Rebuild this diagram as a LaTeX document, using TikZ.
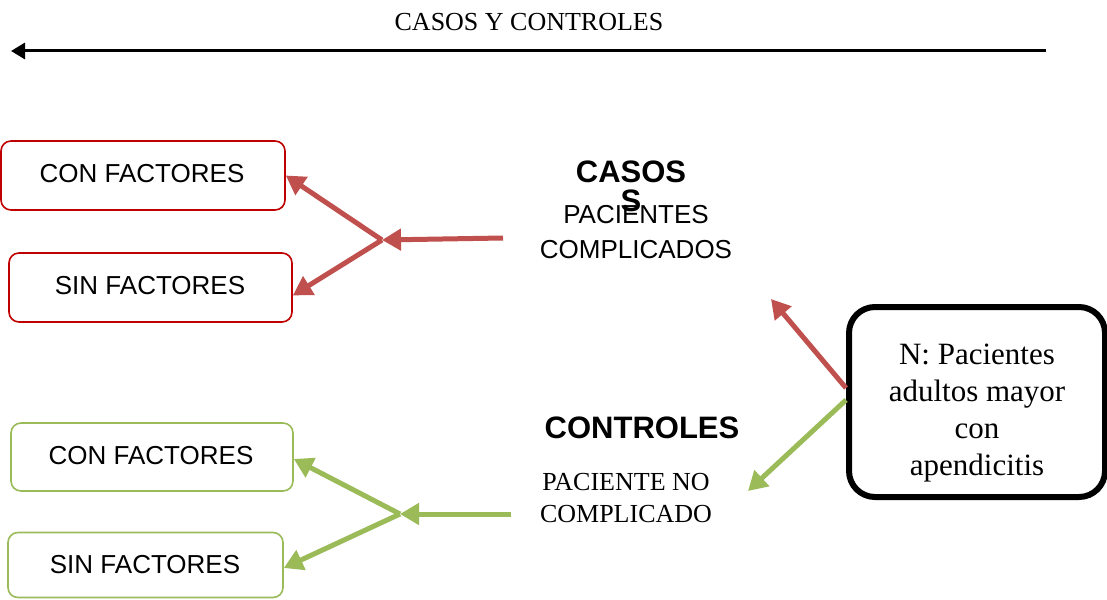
\documentclass[tikz,border=0pt]{standalone}
\usepackage{fontspec}
\setmainfont{Liberation Serif}
\newfontfamily\arialf{Liberation Sans}
\usetikzlibrary{arrows.meta}
\definecolor{boxred}{HTML}{C00000}
\definecolor{arrred}{HTML}{C0504D}
\definecolor{grn}{HTML}{9BBB59}
\tikzset{
  redbox/.style={draw=boxred, line width=1.6pt, rounded corners=10pt, inner sep=0pt},
  grnbox/.style={draw=grn, line width=1.6pt, rounded corners=10pt, inner sep=0pt},
  sanslbl/.style={font=\arialf\fontsize{26}{34}\selectfont, inner sep=0pt, align=center},
  seriflbl/.style={font=\fontsize{26}{32}\selectfont, inner sep=0pt, align=center},
  boldlbl/.style={font=\arialf\bfseries\fontsize{31}{29}\selectfont, inner sep=0pt, align=center},
  redarr/.style={draw=arrred, line width=5pt, -{Triangle[length=19pt,width=21pt]}},
  grnarr/.style={draw=grn, line width=5pt, -{Triangle[length=19pt,width=21pt]}},
}
\begin{document}
\begin{tikzpicture}[x=1pt, y=-1pt]
\useasboundingbox[fill=white] (0,0) rectangle (1107,599);

% title and top arrow
\node[seriflbl] (title) at (529,22) {CASOS Y CONTROLES};
\coordinate (tr) at (1046,51);
\coordinate (tl) at (11,51);
\draw[line width=3pt, -{Triangle[length=14pt,width=16pt]}] (tr) -- (tl);

% left boxes
\node[redbox, minimum width=284pt, minimum height=69pt] (rc) at (143,175.5) {};
\node[sanslbl] (rct) at (142,174) {CON FACTORES};
\node[redbox, minimum width=283pt, minimum height=69pt] (rs) at (150.5,287.5) {};
\node[sanslbl] (rst) at (150,286) {SIN FACTORES};
\node[grnbox, minimum width=282pt, minimum height=68pt] (gc) at (152,457) {};
\node[sanslbl] (gct) at (151,456) {CON FACTORES};
\node[grnbox, minimum width=275pt, minimum height=65pt] (gs) at (145.5,565) {};
\node[sanslbl] (gst) at (145,565) {SIN FACTORES};

% middle labels
\node[boldlbl] (casos) at (631,186) {CASOS\\S};
\node[sanslbl, font=\arialf\fontsize{26}{35}\selectfont] (pc) at (636,232.5) {PACIENTES\\COMPLICADOS};
\node[boldlbl] (ctrl) at (642,428) {CONTROLES};
\node[seriflbl] (pnc) at (626,498) {PACIENTE NO\\COMPLICADO};

% N box
\node[draw, line width=6pt, rounded corners=26pt, minimum width=256pt, minimum height=190pt] (N) at (977,402) {};
\node[font=\fontsize{31}{37}\selectfont, align=center, inner sep=0pt] (Nt) at (977,413) {N: Pacientes\\adultos mayor\\con\\apendicitis};

% red arrows
\coordinate (rstart) at (503,238);
\coordinate (rj) at (382,240);
\draw[redarr] (rstart) -- (rj);
\draw[redarr] (rj) -- (rc.east);
\draw[redarr] (rj) -- ([yshift=-8pt]rs.east);

% green arrows
\coordinate (gstart) at (511,514);
\coordinate (gj) at (400,514);
\draw[grnarr] (gstart) -- (gj);
\draw[grnarr] (gj) -- ([yshift=-2pt]gc.east);
\draw[grnarr] (gj) -- ([yshift=-3pt]gs.east);

% arrows from N
\coordinate (nr) at (771,299);
\coordinate (ng) at (748,491);
\draw[redarr] ([yshift=14pt]N.west) -- (nr);
\draw[grnarr] ([yshift=2pt]N.west) -- (ng);
\end{tikzpicture}
\end{document}
